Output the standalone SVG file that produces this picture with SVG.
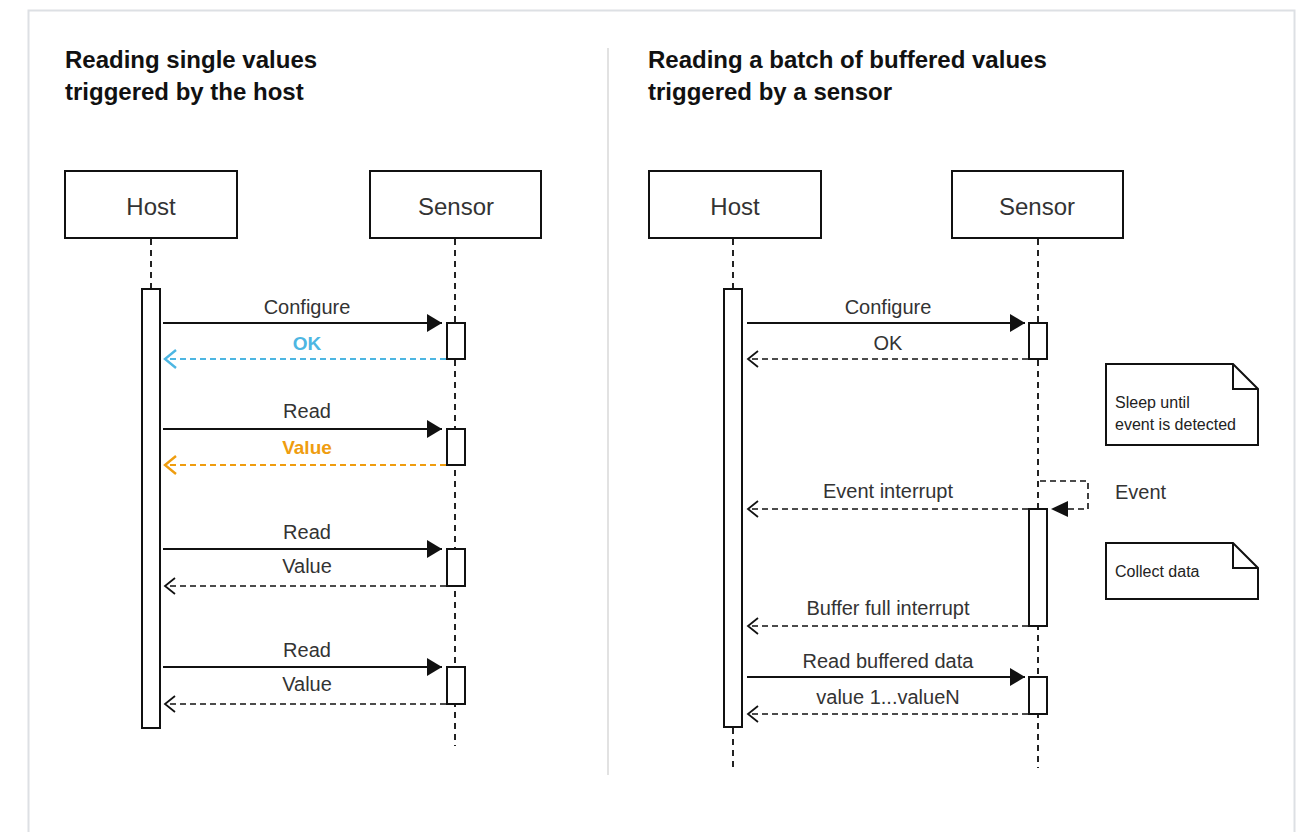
<svg xmlns="http://www.w3.org/2000/svg" width="1297" height="832" viewBox="0 0 1297 832">
<defs>
<style>
.title{font-family:"Liberation Sans",Arial,sans-serif;font-weight:bold;font-size:24px;fill:#111}
.box{fill:#fff;stroke:#111;stroke-width:2}
.boxt{font-family:"Liberation Sans",Arial,sans-serif;font-size:24px;fill:#333;text-anchor:middle}
.life{stroke:#222;stroke-width:2;stroke-dasharray:6 5;fill:none}
.act{fill:#fff;stroke:#111;stroke-width:2}
.msg{stroke:#111;stroke-width:2;fill:none}
.ret{stroke:#111;stroke-width:1.6;stroke-dasharray:6 4;fill:none}
.lbl{font-family:"Liberation Sans",Arial,sans-serif;font-size:20px;fill:#333;text-anchor:middle}
.note{fill:#fff;stroke:#111;stroke-width:2}
.nt{font-family:"Liberation Sans",Arial,sans-serif;font-size:16px;fill:#222}
</style>
<marker id="solid" markerUnits="userSpaceOnUse" markerWidth="16" markerHeight="18" refX="15" refY="9" orient="auto"><path d="M0,0 L15,9 L0,18 z" fill="#111"/></marker>
<marker id="open" markerUnits="userSpaceOnUse" markerWidth="14" markerHeight="18" refX="11" refY="9" orient="auto"><path d="M1,1 L11,9 L1,17" fill="none" stroke="#111" stroke-width="1.8"/></marker>
<marker id="openBlue" markerUnits="userSpaceOnUse" markerWidth="14" markerHeight="20" refX="12" refY="10" orient="auto"><path d="M1,1 L12,10 L1,19" fill="none" stroke="#4db6e2" stroke-width="2.4"/></marker>
<marker id="openOrange" markerUnits="userSpaceOnUse" markerWidth="14" markerHeight="20" refX="12" refY="10" orient="auto"><path d="M1,1 L12,10 L1,19" fill="none" stroke="#ef9d0f" stroke-width="2.4"/></marker>
</defs>
<rect x="0" y="0" width="1297" height="832" fill="#fff"/>
<rect x="28.5" y="10.5" width="1266" height="840" fill="#fff" stroke="#dde0e4" stroke-width="2"/>
<line x1="608" y1="48" x2="608" y2="775" stroke="#e2e2e2" stroke-width="2"/>

<g id="titles">
<text class="title" x="65" y="68">Reading single values</text>
<text class="title" x="65" y="100">triggered by the host</text>
<text class="title" x="648" y="68">Reading a batch of buffered values</text>
<text class="title" x="648" y="100">triggered by a sensor</text>
</g>

<g id="connectors">
<!-- lifelines -->
<line class="life" x1="151" y1="239" x2="151" y2="288"/>
<line class="life" x1="455" y1="239" x2="455" y2="746"/>
<line class="life" x1="733" y1="239" x2="733" y2="288"/>
<line class="life" x1="733" y1="728" x2="733" y2="768"/>
<line class="life" x1="1038" y1="239" x2="1038" y2="768"/>
<!-- left messages -->
<line class="msg" x1="163" y1="323" x2="442" y2="323" marker-end="url(#solid)"/>
<line class="ret" x1="446" y1="359" x2="165" y2="359" stroke="#4db6e2" style="stroke:#4db6e2;stroke-width:2.2" marker-end="url(#openBlue)"/>
<line class="msg" x1="163" y1="429" x2="442" y2="429" marker-end="url(#solid)"/>
<line class="ret" x1="446" y1="465" x2="165" y2="465" style="stroke:#ef9d0f;stroke-width:2.2" marker-end="url(#openOrange)"/>
<line class="msg" x1="163" y1="549" x2="442" y2="549" marker-end="url(#solid)"/>
<line class="ret" x1="446" y1="586" x2="165" y2="586" marker-end="url(#open)"/>
<line class="msg" x1="163" y1="667" x2="442" y2="667" marker-end="url(#solid)"/>
<line class="ret" x1="446" y1="704" x2="165" y2="704" marker-end="url(#open)"/>
<!-- right messages -->
<line class="msg" x1="747" y1="323" x2="1025" y2="323" marker-end="url(#solid)"/>
<line class="ret" x1="1028" y1="359" x2="748" y2="359" marker-end="url(#open)"/>
<path class="ret" d="M1040,481 H1088 V509 H1068"/>
<path d="M1051,509 L1068,501 L1068,517 z" fill="#111"/>
<line class="ret" x1="1028" y1="509" x2="748" y2="509" marker-end="url(#open)"/>
<line class="ret" x1="1028" y1="626" x2="748" y2="626" marker-end="url(#open)"/>
<line class="msg" x1="747" y1="677" x2="1025" y2="677" marker-end="url(#solid)"/>
<line class="ret" x1="1028" y1="714" x2="748" y2="714" marker-end="url(#open)"/>
</g>

<g id="left-host">
<rect class="box" x="65" y="171" width="172" height="67"/>
<text class="boxt" x="151" y="215">Host</text>
<rect class="act" x="142" y="289" width="18" height="439"/>
</g>
<g id="left-sensor">
<rect class="box" x="370" y="171" width="171" height="67"/>
<text class="boxt" x="456" y="215">Sensor</text>
<rect class="act" x="447" y="323" width="18" height="36"/>
<rect class="act" x="447" y="429" width="18" height="36"/>
<rect class="act" x="447" y="549" width="18" height="37"/>
<rect class="act" x="447" y="667" width="18" height="37"/>
</g>
<g id="left-labels">
<text class="lbl" x="307" y="314">Configure</text>
<text class="lbl" x="307" y="350" style="fill:#4db6e2;font-weight:bold;font-size:19px">OK</text>
<text class="lbl" x="307" y="418">Read</text>
<text class="lbl" x="307" y="454" style="fill:#ef9d0f;font-weight:bold;font-size:19px">Value</text>
<text class="lbl" x="307" y="539">Read</text>
<text class="lbl" x="307" y="573">Value</text>
<text class="lbl" x="307" y="657">Read</text>
<text class="lbl" x="307" y="691">Value</text>
</g>

<g id="right-host">
<rect class="box" x="649" y="171" width="172" height="67"/>
<text class="boxt" x="735" y="215">Host</text>
<rect class="act" x="724" y="289" width="18" height="438"/>
</g>
<g id="right-sensor">
<rect class="box" x="952" y="171" width="171" height="67"/>
<text class="boxt" x="1037" y="215">Sensor</text>
<rect class="act" x="1029" y="323" width="18" height="36"/>
<rect class="act" x="1029" y="509" width="18" height="117"/>
<rect class="act" x="1029" y="677" width="18" height="37"/>
</g>
<g id="note-sleep">
<path class="note" d="M1106,364 H1233 L1258,389 V445 H1106 Z"/>
<path class="note" d="M1233,364 V389 H1258" style="fill:none"/>
<text class="nt" x="1115" y="408">Sleep until</text>
<text class="nt" x="1115" y="430">event is detected</text>
</g>
<g id="note-collect">
<path class="note" d="M1106,543 H1233 L1258,568 V599 H1106 Z"/>
<path class="note" d="M1233,543 V568 H1258" style="fill:none"/>
<text class="nt" x="1115" y="577">Collect data</text>
</g>
<g id="right-labels">
<text class="lbl" x="888" y="314">Configure</text>
<text class="lbl" x="888" y="350">OK</text>
<text class="lbl" x="888" y="498">Event interrupt</text>
<text class="lbl" x="1115" y="499" style="text-anchor:start">Event</text>
<text class="lbl" x="888" y="615">Buffer full interrupt</text>
<text class="lbl" x="888" y="668">Read buffered data</text>
<text class="lbl" x="888" y="704">value 1...valueN</text>
</g>
</svg>
